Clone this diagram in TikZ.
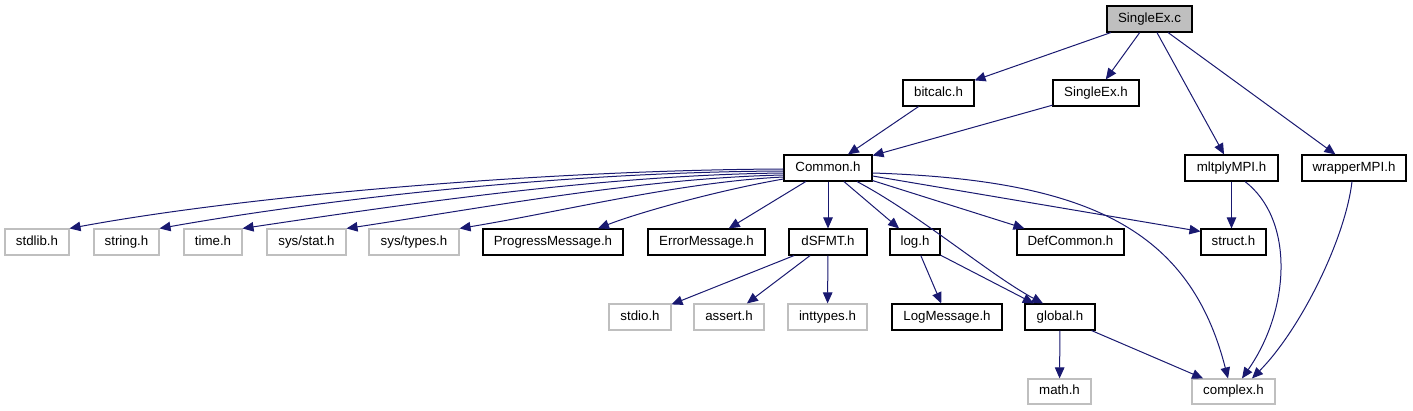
\documentclass[tikz,border=0pt]{standalone}
\usepackage{fontspec}
\setmainfont{Liberation Sans}
\usetikzlibrary{arrows.meta,calc}
\definecolor{edgeblue}{HTML}{191970}
\definecolor{lightgrey}{HTML}{BFBFBF}
\begin{document}
\begin{tikzpicture}[x=1pt,y=-1pt,
  file/.style={draw=black, line width=1.1pt, inner sep=0pt, minimum height=26pt,
    text height=9.5pt, text depth=2.8pt, font=\fontsize{13.3}{16}\selectfont},
  ext/.style={file, draw=lightgrey},
  root/.style={file, fill=lightgrey},
  dep/.style={draw=edgeblue, line width=1pt, -{Triangle[length=11pt,width=9.5pt]}}]
\useasboundingbox (0,0) rectangle (1413,411);
% row 0/1
\node[root, minimum width=85pt] (singlec) at (1149.5,19) {SingleEx.c};
\node[file, minimum width=71pt] (bitcalc) at (938.5,93) {bitcalc.h};
\node[file, minimum width=86pt] (singleh) at (1096,93) {SingleEx.h};
\node[file, minimum width=93pt] (mltply) at (1231.5,168) {mltplyMPI.h};
\node[file, minimum width=104pt] (wrapper) at (1354,168) {wrapperMPI.h};
\node[file, minimum width=88pt] (common) at (828,168) {Common.h};
% row 2
\node[ext, minimum width=64pt] (stdlib) at (37,242) {stdlib.h};
\node[ext, minimum width=65pt] (string) at (126.5,242) {string.h};
\node[ext, minimum width=58pt] (time) at (213,242) {time.h};
\node[ext, minimum width=79pt] (sysstat) at (306.5,242) {sys/stat.h};
\node[ext, minimum width=90pt] (systypes) at (414,242) {sys/types.h};
\node[file, minimum width=140pt] (progress) at (553,242) {ProgressMessage.h};
\node[file, minimum width=117pt] (error) at (706.5,242) {ErrorMessage.h};
\node[file, minimum width=78pt] (dsfmt) at (828,242) {dSFMT.h};
\node[file, minimum width=50pt] (log) at (915,242) {log.h};
\node[file, minimum width=107pt] (defcommon) at (1070.5,242) {DefCommon.h};
\node[file, minimum width=65pt] (struct) at (1233.5,242) {struct.h};
% row 3
\node[ext, minimum width=62pt] (stdio) at (640,317) {stdio.h};
\node[ext, minimum width=70pt] (assert) at (729,317) {assert.h};
\node[ext, minimum width=79pt] (inttypes) at (827.5,317) {inttypes.h};
\node[file, minimum width=110pt] (logmsg) at (947,317) {LogMessage.h};
\node[file, minimum width=70pt] (global) at (1060,317) {global.h};
% row 4
\node[ext, minimum width=63pt, minimum height=25pt] (math) at (1059.5,391.5) {math.h};
\node[ext, minimum width=83pt, minimum height=25pt] (complex) at (1233.5,391.5) {complex.h};
% edges from SingleEx.c
\draw[dep] (singlec) -- (bitcalc);
\draw[dep] (singlec) -- (singleh);
\draw[dep] (singlec) -- (mltply);
\draw[dep] (singlec) -- (wrapper);
\draw[dep] (bitcalc) -- (common);
\draw[dep] (singleh) -- (common);
% edges from Common.h to the left
\draw[dep] ($(common.west)+(0,1)$) .. controls (550,170) and (250,195) .. (stdlib.north east);
\draw[dep] ($(common.west)+(0,3)$) .. controls (560,172) and (320,200) .. (string.north east);
\draw[dep] ($(common.west)+(0,5)$) .. controls (600,175) and (400,205) .. (time.north east);
\draw[dep] ($(common.west)+(0,7)$) .. controls (640,178) and (470,210) .. (sysstat.north east);
\draw[dep] ($(common.west)+(0,9)$) .. controls (680,182) and (560,212) .. (systypes.north east);
\draw[dep] ($(common.west)+(0,11)$) .. controls (720,190) and (640,212) .. ($(progress.north)+(45,0)$);
\draw[dep] (common) -- (error);
\draw[dep] (common) -- (dsfmt);
\draw[dep] (common) -- (log);
\draw[dep] ($(common.south)+(29,0)$) .. controls (920,215) and (990,275) .. ($(global.north)+(-17,0)$);
\draw[dep] ($(common.south east)+(0,-1)$) -- ($(defcommon.north west)+(8,0)$);
\draw[dep] ($(common.east)+(0,8)$) -- ($(struct.north west)+(0,3)$);
\draw[dep] ($(common.east)+(0,5)$) .. controls (1090,180) and (1190,230) .. ($(complex.north)+(-5.5,0)$);
% MPI headers
\draw[dep] (mltply.south) -- (mltply.south |- struct.north);
\draw[dep] ($(mltply.south)+(13.5,0)$) .. controls (1295,220) and (1290,310) .. ($(complex.north)+(8.5,0)$);
\draw[dep] ($(wrapper.south)+(-2,0)$) .. controls (1345,240) and (1300,330) .. ($(complex.north)+(18.5,0)$);
% dSFMT, log, global
\draw[dep] (dsfmt) -- (stdio);
\draw[dep] (dsfmt) -- (assert);
\draw[dep] (dsfmt) -- (inttypes);
\draw[dep] (log) -- (logmsg);
\draw[dep] (log) -- (global);
\draw[dep] (global) -- (math);
\draw[dep] (global) -- (complex);
\end{tikzpicture}
\end{document}
